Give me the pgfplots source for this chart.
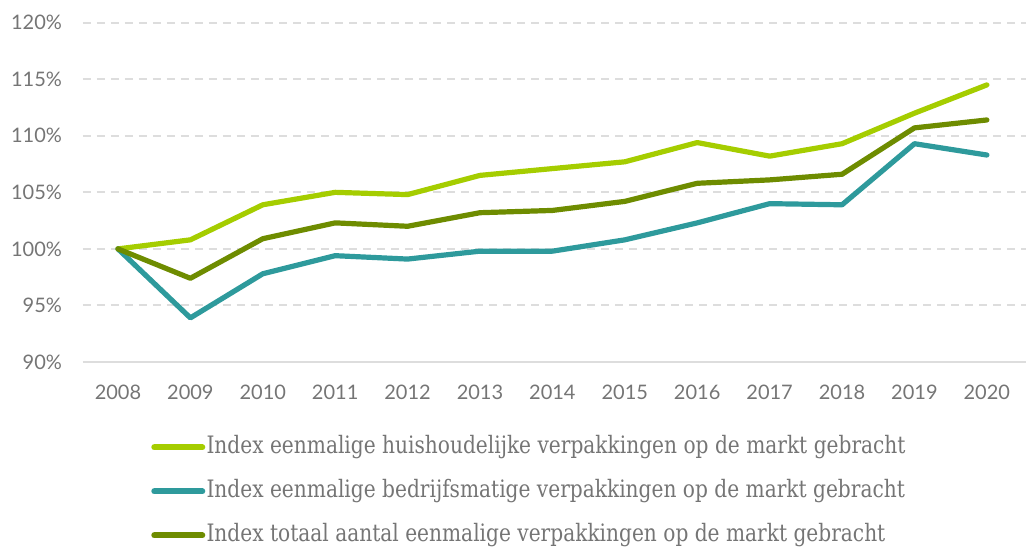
\documentclass[border=0pt]{standalone}
\usepackage{pgfplots}
\pgfplotsset{compat=1.18}
\usepackage{fontspec}
\setmainfont{Lato}
\newfontfamily\legfont[FakeStretch=0.84]{DejaVu Serif}
\definecolor{huis}{HTML}{A5CD00}
\definecolor{bedrijf}{HTML}{2E9A9C}
\definecolor{totaal}{HTML}{6E8C00}
\definecolor{txtgray}{HTML}{757575}
\definecolor{gridgray}{HTML}{DDDDDD}

\begin{document}
\begin{tikzpicture}
  \begin{axis}[
    scale only axis,
    width=471.5pt,
    height=169.65pt,
    xmin=2007.517, xmax=2020.54,
    ymin=90, ymax=120,
    xtick={2008,...,2020},
    ytick={95,100,...,120},
    extra y ticks={90},
    extra y tick labels={90\%},
    extra y tick style={major grid style={solid, gridgray, line width=1pt}},
    yticklabel={\pgfmathprintnumber{\tick}\%},
    /pgf/number format/1000 sep={},
    /pgf/number format/assume math mode=true,
    axis line style={draw=none},
    major tick length=0pt,
    ymajorgrids,
    major grid style={gridgray, line width=1pt, dash pattern=on 4pt off 3pt},
    tick label style={font=\fontsize{10}{12}\selectfont, text=txtgray},
    yticklabel style={anchor=east, xshift=-7pt},
    xticklabel style={anchor=north, yshift=-8pt},
    clip=false,
    legend cell align=left,
    legend image code/.code={\draw[#1, line width=3pt, line cap=round] (1.5pt,0pt) -- (25.5pt,0pt);},
    legend style={at={(0.072,0)}, anchor=north west, yshift=-36pt, draw=none, fill=none,
      font=\legfont\fontsize{12}{14}\selectfont, text=txtgray,
      inner xsep=0pt, inner ysep=0pt, row sep=9pt,
      nodes={inner xsep=0.6pt, inner ysep=0pt, text height=9.5pt, text depth=3.5pt}},
    every axis plot/.append style={line width=2.6pt, line join=round, line cap=round},
  ]
    % huishoudelijk
    \addplot[huis] coordinates {
      (2008,100.0) (2009,100.8) (2010,103.9) (2011,105.0) (2012,104.8) (2013,106.5)
      (2014,107.1) (2015,107.7) (2016,109.4) (2017,108.2) (2018,109.3) (2019,112.0) (2020,114.5)
    };
    \addlegendentry{Index eenmalige huishoudelijke verpakkingen op de markt gebracht}
    % bedrijfsmatig
    \addplot[bedrijf] coordinates {
      (2008,100.0) (2009,93.9) (2010,97.8) (2011,99.4) (2012,99.1) (2013,99.8)
      (2014,99.8) (2015,100.8) (2016,102.3) (2017,104.0) (2018,103.9) (2019,109.3) (2020,108.3)
    };
    \addlegendentry{Index eenmalige bedrijfsmatige verpakkingen op de markt gebracht}
    % totaal
    \addplot[totaal] coordinates {
      (2008,100.0) (2009,97.4) (2010,100.9) (2011,102.3) (2012,102.0) (2013,103.2)
      (2014,103.4) (2015,104.2) (2016,105.8) (2017,106.1) (2018,106.6) (2019,110.7) (2020,111.4)
    };
    \addlegendentry{Index totaal aantal eenmalige verpakkingen op de markt gebracht}
  \end{axis}
  \path (current axis.north west) ++(-41.5pt,11.35pt) (current axis.south east) ++(1pt,-92.5pt);
\end{tikzpicture}
\end{document}
